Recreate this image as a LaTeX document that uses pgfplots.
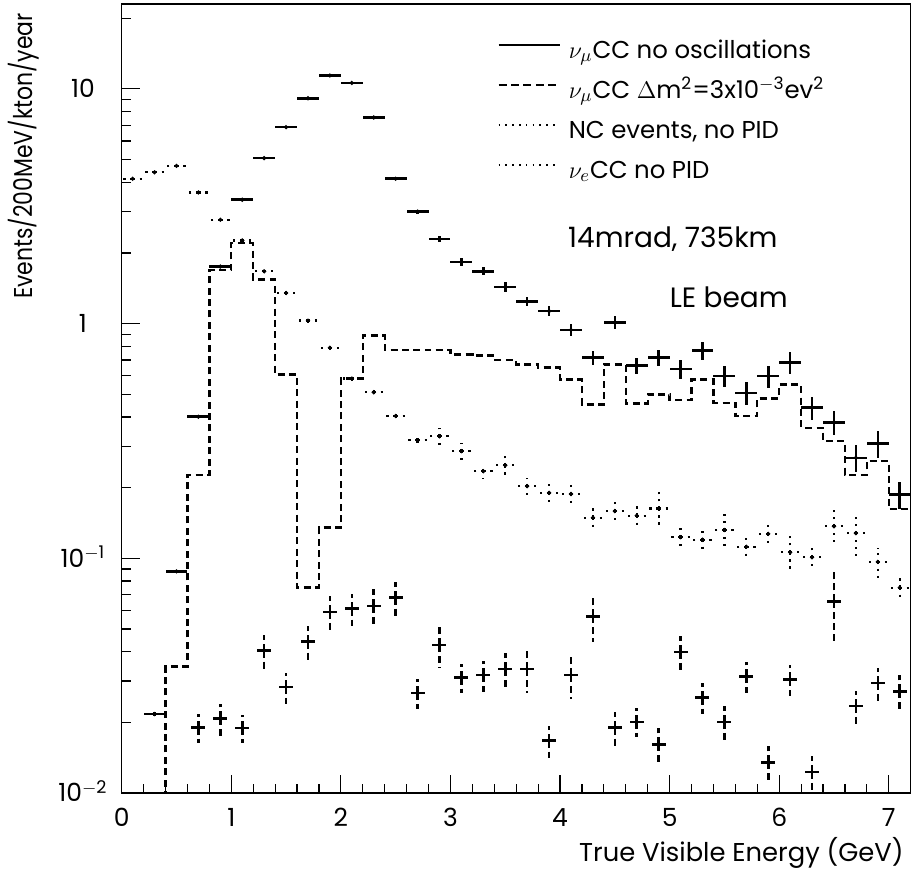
\documentclass[border=0pt]{standalone}
\usepackage{fontspec}
\setmainfont{Poppins}
\usepackage{graphicx}
\usepackage{pgfplots}
\pgfplotsset{compat=1.18}
\usepackage{pgfplotstable}

% nu_mu CC, no oscillations (bin centre, value, relative error)
\pgfplotstableread{
x y e
0.3 0.0217 0.02
0.5 0.088 0.01
0.7 0.401 0.01
0.9 1.75 0.005
1.1 3.37 0.005
1.3 5.07 0.005
1.5 6.87 0.005
1.7 9.12 0.005
1.9 11.4 0.005
2.1 10.6 0.005
2.3 7.55 0.008
2.5 4.14 0.015
2.7 3.00 0.02
2.9 2.29 0.03
3.1 1.83 0.04
3.3 1.67 0.04
3.5 1.43 0.05
3.7 1.24 0.046
3.9 1.13 0.05
4.1 0.94 0.06
4.3 0.715 0.065
4.5 1.01 0.065
4.7 0.662 0.08
4.9 0.715 0.08
5.1 0.641 0.09
5.3 0.767 0.09
5.5 0.597 0.10
5.7 0.507 0.11
5.9 0.597 0.11
6.1 0.684 0.11
6.3 0.438 0.11
6.5 0.380 0.12
6.7 0.268 0.13
6.9 0.308 0.13
7.1 0.187 0.135
}\numucc

% nu_mu CC oscillated, histogram (bin left edge, value)
\pgfplotstableread{
x y
0.0 0.001
0.2 0.001
0.4 0.0346
0.6 0.227
0.8 1.69
1.0 2.2
1.2 1.54
1.4 0.607
1.6 0.075
1.8 0.135
2.0 0.583
2.2 0.891
2.4 0.774
2.6 0.774
2.8 0.77
3.0 0.738
3.2 0.73
3.4 0.70
3.6 0.67
3.8 0.649
4.0 0.578
4.2 0.452
4.4 0.67
4.6 0.457
4.8 0.499
5.0 0.472
5.2 0.578
5.4 0.46
5.6 0.403
5.8 0.48
6.0 0.55
6.2 0.36
6.4 0.316
6.6 0.227
6.8 0.26
7.0 0.162
7.2 0.39
7.4 0.39
}\numuosc

% NC events, no PID
\pgfplotstableread{
x y e
0.1 4.14 0.01
0.3 4.41 0.01
0.5 4.70 0.01
0.7 3.62 0.01
0.9 2.77 0.01
1.1 2.26 0.015
1.3 1.67 0.015
1.5 1.35 0.015
1.7 1.03 0.02
1.9 0.789 0.02
2.1 0.583 0.02
2.3 0.51 0.03
2.5 0.404 0.05
2.7 0.318 0.05
2.9 0.331 0.09
3.1 0.286 0.08
3.3 0.235 0.07
3.5 0.249 0.10
3.7 0.203 0.08
3.9 0.19 0.09
4.1 0.188 0.10
4.3 0.149 0.10
4.5 0.159 0.10
4.7 0.152 0.10
4.9 0.163 0.17
5.1 0.123 0.09
5.3 0.12 0.11
5.5 0.132 0.18
5.7 0.112 0.10
5.9 0.127 0.12
6.1 0.106 0.17
6.3 0.101 0.12
6.5 0.137 0.17
6.7 0.128 0.22
6.9 0.0965 0.15
7.1 0.075 0.12
}\nc

% nu_e CC, no PID
\pgfplotstableread{
x y e
0.7 0.0190 0.14
0.9 0.0208 0.155
1.1 0.0189 0.14
1.3 0.0404 0.165
1.5 0.0283 0.15
1.7 0.0441 0.17
1.9 0.0591 0.17
2.1 0.0611 0.155
2.3 0.0627 0.175
2.5 0.068 0.17
2.7 0.0267 0.145
2.9 0.0427 0.2
3.1 0.031 0.14
3.3 0.0318 0.15
3.5 0.0337 0.175
3.7 0.0337 0.21
3.9 0.0167 0.155
4.1 0.0318 0.21
4.3 0.0565 0.22
4.5 0.019 0.17
4.7 0.0201 0.14
4.9 0.0161 0.17
5.1 0.0399 0.17
5.3 0.0255 0.15
5.5 0.0201 0.17
5.7 0.0314 0.15
5.9 0.0135 0.17
6.1 0.0305 0.15
6.3 0.0123 0.17
6.5 0.0655 0.33
6.7 0.0235 0.16
6.9 0.0294 0.16
7.1 0.0271 0.18
}\nue

\begin{document}
\begin{tikzpicture}
\begin{axis}[
  name=ax,
  scale only axis, width=394.5pt, height=394.5pt,
  xmin=0, xmax=7.2, ymode=log, ymin=0.01, ymax=23,
  xtick={0,1,2,3,4,5,6,7}, xticklabels={0,1,2,3,4,5,6,7},
  minor x tick num=4,
  ytick={0.01,0.1,1,10},
  yticklabels={10\textsuperscript{$-$2},10\textsuperscript{$-$1},1,10},
  minor ytick={0.02,0.03,0.04,0.05,0.06,0.07,0.08,0.09,0.2,0.3,0.4,0.5,0.6,0.7,0.8,0.9,2,3,4,5,6,7,8,9,20},
  tick align=inside, xtick pos=bottom, ytick pos=left,
  major tick length=9pt, minor tick length=4.5pt,
  every tick/.style={black, line width=0.6pt},
  axis line style={line width=0.6pt},
  xticklabel style={font=\fontsize{12.5}{14}\selectfont, anchor=base, yshift=-17pt},
  yticklabel style={font=\fontsize{12.5}{14}\selectfont, anchor=base, xshift=-19.4pt, yshift=-4.5pt},
  legend image code/.code={\draw[#1] (0pt,4.2pt) -- (30.5pt,4.2pt);},
  legend cell align=left,
  legend style={at={(0.4757,0.952)}, anchor=north west, draw=none, fill=none,
    font=\fontsize{12.2}{14}\selectfont, inner sep=0pt, row sep=9pt, column sep=4pt,
    nodes={inner sep=0pt, text height=8pt, text depth=3pt}},
]
\addlegendimage{line width=1.2pt}
\addlegendentry{$\nu_{\mu}$CC no oscillations}
\addlegendimage{line width=1.2pt, dash pattern=on 4pt off 2.2pt}
\addlegendentry{$\nu_{\mu}$CC $\Delta$m\textsuperscript{2}=3x10\textsuperscript{$-$3}ev\textsuperscript{2}}
\addlegendimage{line width=0.8pt, dash pattern=on 0.8pt off 2.6pt}
\addlegendentry{NC events, no PID}
\addlegendimage{line width=0.8pt, dash pattern=on 0.8pt off 2.6pt}
\addlegendentry{$\nu_{e}$CC no PID}

\addplot[const plot, black, line width=1.2pt, dash pattern=on 3.5pt off 2.2pt, forget plot]
  table[x=x,y=y]{\numuosc};

\addplot[only marks, mark=o, mark size=0.8pt, black, mark options={line width=0.5pt, solid}, forget plot,
  error bars/.cd, x dir=both, x fixed=0.1, y dir=both, y explicit relative, error mark=none,
  error bar style={line width=1.1pt, dash pattern=on 1.1pt off 2.4pt, black}]
  table[x=x,y=y,y error=e]{\nc};

\addplot[draw=none, mark=none, forget plot,
  error bars/.cd, x dir=both, x fixed=0.1, y dir=both, y explicit relative, error mark=none,
  error bar style={draw=black, line width=1.3pt, dash pattern=on 3.5pt off 2pt}]
  table[x=x,y=y,y error=e]{\nue};

\addplot[only marks, mark=o, mark size=0.8pt, black, mark options={line width=0.5pt, solid}, forget plot,
  error bars/.cd, x dir=both, x fixed=0.1, y dir=both, y explicit relative, error mark=none,
  error bar style={line width=1.3pt, solid, black}]
  table[x=x,y=y,y error=e]{\numucc};

\node[font=\fontsize{14}{16}\selectfont] at (axis cs:5.03,2.28) {14mrad, 735km};
\node[font=\fontsize{14}{16}\selectfont] at (axis cs:5.54,1.30) {LE beam};
\end{axis}
\node[rotate=90, anchor=base east, font=\fontsize{12.9}{15}\selectfont]
  at ([xshift=-44.35pt,yshift=-1pt]ax.north west) {\scalebox{0.85}[1]{Events/200MeV/kton/year}};
\node[anchor=base east, font=\fontsize{12.9}{15}\selectfont]
  at ([yshift=-34.5pt]ax.south east) {True Visible Energy (GeV)};
\path ([xshift=-60.85pt,yshift=-40pt]ax.south west) rectangle ([xshift=2.15pt,yshift=2pt]ax.north east);
\end{tikzpicture}
\end{document}
